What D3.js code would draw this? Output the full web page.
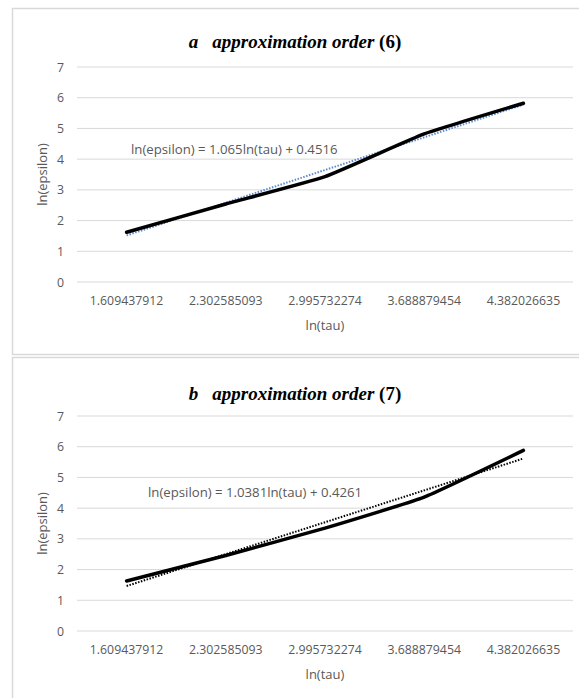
<!DOCTYPE html>
<html>
<head>
<meta charset="utf-8">
<script src="https://cdn.jsdelivr.net/npm/d3@7"></script>
<style>
  body { margin: 0; background: #fff; }
  svg { display: block; }
</style>
</head>
<body>
<div id="chart"></div>
<script>
const categories = ["1.609437912", "2.302585093", "2.995732274", "3.688879454", "4.382026635"];
const valuesA = [1.62, 2.54, 3.43, 4.82, 5.82];
const valuesB = [1.63, 2.46, 3.35, 4.36, 5.88];
const trendA = { slope: 1.065, intercept: 0.4516, label: "ln(epsilon) = 1.065ln(tau) + 0.4516" };
const trendB = { slope: 1.0381, intercept: 0.4261, label: "ln(epsilon) = 1.0381ln(tau) + 0.4261" };
const yTicks = [0, 1, 2, 3, 4, 5, 6, 7];

const W = 579, H = 698;
const svg = d3.select("#chart").append("svg")
    .attr("width", W)
    .attr("height", H);

const GRAY = "#595959";
const FONT = "'Open Sans', Lato, sans-serif";

function drawPanel(cfg) {
    const g = svg.append("g").attr("transform", `translate(0, ${cfg.top})`);

    // frame
    g.append("rect")
        .attr("x", 12.5).attr("y", 0.5)
        .attr("width", W).attr("height", cfg.frameH)
        .attr("fill", "#fff")
        .attr("stroke", "#d9d9d9")
        .attr("stroke-width", 1.5);

    const x = d3.scaleBand().domain(categories).range([77, 573]);
    const y = d3.scaleLinear().domain([0, 7]).range([cfg.plotBottom, cfg.plotTop]);

    // gridlines
    g.selectAll(".grid").data(yTicks).enter().append("line")
        .attr("x1", 77).attr("x2", 573)
        .attr("y1", d => y(d)).attr("y2", d => y(d))
        .attr("stroke", "#d9d9d9").attr("stroke-width", 1);

    // y tick labels
    g.selectAll(".ylab").data(yTicks).enter().append("text")
        .attr("x", 64).attr("y", d => y(d) + 4.5)
        .attr("text-anchor", "end")
        .attr("font-family", FONT).attr("font-size", 12.3)
        .attr("fill", GRAY)
        .text(d => d);

    // x tick labels
    g.selectAll(".xlab").data(categories).enter().append("text")
        .attr("x", d => x(d) + x.bandwidth() / 2)
        .attr("y", cfg.plotBottom + 23)
        .attr("text-anchor", "middle")
        .attr("font-family", FONT).attr("font-size", 12.3)
        .attr("fill", GRAY)
        .text(d => d);

    // axis titles
    g.append("text")
        .attr("x", x(categories[2]) + x.bandwidth() / 2)
        .attr("y", cfg.plotBottom + 48)
        .attr("text-anchor", "middle")
        .attr("font-family", FONT).attr("font-size", 13)
        .attr("fill", GRAY)
        .text("ln(tau)");

    g.append("text")
        .attr("transform", `translate(47, ${(cfg.plotTop + cfg.plotBottom) / 2}) rotate(-90)`)
        .attr("text-anchor", "middle")
        .attr("font-family", FONT).attr("font-size", 13)
        .attr("fill", GRAY)
        .text("ln(epsilon)");

    // title
    const title = g.append("text")
        .attr("x", 295).attr("y", cfg.titleY)
        .attr("text-anchor", "middle")
        .attr("font-family", "'Liberation Serif', 'DejaVu Serif', serif")
        .attr("font-size", 19).attr("font-weight", "bold")
        .attr("fill", "#000");
    title.append("tspan").attr("font-style", "italic").text(cfg.letter);
    title.append("tspan").attr("font-style", "italic").attr("dx", 14).text("approximation order ");
    title.append("tspan").text(cfg.order);

    const cx = (d, i) => x(categories[i]) + x.bandwidth() / 2;

    // trendline
    const tr = cfg.trend;
    const ends = [0, categories.length - 1];
    g.append("path")
        .datum(ends)
        .attr("fill", "none")
        .attr("stroke", cfg.trendColor)
        .attr("stroke-width", 2)
        .attr("stroke-dasharray", "1.5,1.5")
        .attr("d", d3.line()
            .x(i => x(categories[i]) + x.bandwidth() / 2)
            .y(i => y(tr.slope * (i + 1) + tr.intercept)));

    // data line
    g.append("path")
        .datum(cfg.values)
        .attr("fill", "none")
        .attr("stroke", "#000")
        .attr("stroke-width", 3.5)
        .attr("stroke-linejoin", "round")
        .attr("stroke-linecap", "round")
        .attr("d", d3.line().x(cx).y(d => y(d)).curve(d3.curveCardinal.tension(0.6)));

    // equation label
    g.append("text")
        .attr("x", cfg.labelX).attr("y", cfg.labelY)
        .attr("font-family", FONT).attr("font-size", 13.2)
        .attr("fill", GRAY)
        .text(tr.label);
}

drawPanel({
    top: 8, frameH: 346, plotTop: 59, plotBottom: 274, titleY: 40,
    letter: "a", order: "(6)", values: valuesA, trend: trendA, trendColor: "#5b8bd0",
    labelX: 131, labelY: 146
});

drawPanel({
    top: 357, frameH: 360, plotTop: 59, plotBottom: 274, titleY: 43,
    letter: "b", order: "(7)", values: valuesB, trend: trendB, trendColor: "#000",
    labelX: 148, labelY: 140
});
</script>
</body>
</html>
